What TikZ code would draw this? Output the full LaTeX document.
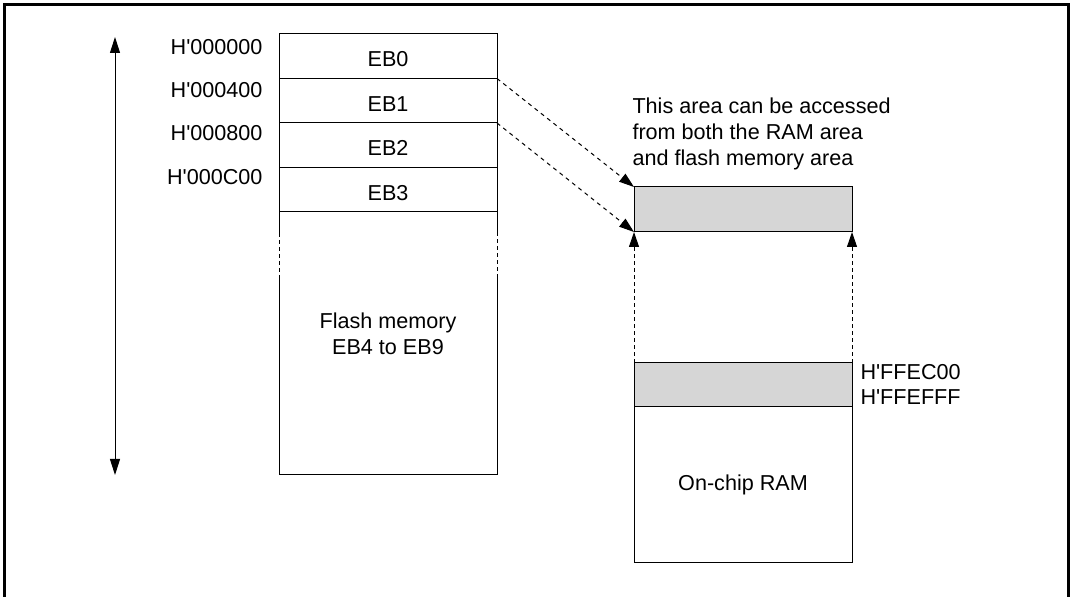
\documentclass[tikz,border=0pt]{standalone}
\usepackage{fontspec}
\setmainfont{Liberation Sans}
\usetikzlibrary{positioning,arrows.meta}

\newcommand{\haddr}[1]{H\textquotesingle#1}

\tikzset{
  block/.style={draw,minimum width=109pt,minimum height=22.25pt,inner sep=0pt,outer sep=0pt,text height=10.7pt,text depth=0pt},
  area/.style={draw,fill=black!16,minimum width=109pt,inner sep=0pt,outer sep=0pt},
  ramblock/.style={draw,minimum width=109pt,inner sep=0pt,outer sep=0pt},
  addr/.style={inner sep=0pt},
  tip/.style={-{Triangle[width=5pt,length=7.5pt]}},
  sidedash/.style={dash pattern=on 2pt off 1.5pt},
  linkdash/.style={dash pattern=on 2pt off 2pt},
}

\begin{document}
\begin{tikzpicture}[x=0.5pt,y=-0.5pt,font=\fontsize{10.8}{13.2}\selectfont,line width=0.5pt]
\useasboundingbox (0,0) rectangle (1074,597);
% frame
\draw[line width=1.5pt] (4.5,620) -- (4.5,4.5) -- (1068.5,4.5) -- (1068.5,620);

% address range
\coordinate (rtop) at (115,37);
\coordinate (rbot) at (115,475);
\draw[{Triangle[width=5pt,length=8pt]}-{Triangle[width=5pt,length=8pt]}] (rtop) -- (rbot);

% erase blocks
\node[block] (eb0) at (388,56.25) {EB0};
\node[block,below=0pt of eb0] (eb1) {EB1};
\node[block,below=0pt of eb1] (eb2) {EB2};
\node[block,below=0pt of eb2] (eb3) {EB3};

\node[addr,anchor=east] (a0) at (263,47) {\haddr{000000}};
\node[addr,anchor=east] (a1) at (263,90) {\haddr{000400}};
\node[addr,anchor=east] (a2) at (263,133) {\haddr{000800}};
\node[addr,anchor=east] (a3) at (263,177) {\haddr{000C00}};

% rest of flash memory
\draw (eb3.south west) -- ++(0,21) coordinate (fl1);
\draw[sidedash] (fl1) -- ++(0,45) coordinate (fl2);
\draw (fl2) -- ++(0,197) -- ++(218,0) -- ++(0,-197) coordinate (fr2);
\draw[sidedash] (fr2) -- ++(0,-45) coordinate (fr1);
\draw (fr1) -- (eb3.south east);
\node[align=center] (flash) at (388,333.5) {Flash memory\\EB4 to EB9};

% shared area
\node[area,minimum height=22.5pt] (shared) at (743,209.5) {};
\node[anchor=west,align=left,inner sep=0pt] (note) at (632,134)
  {This area can be accessed\\from both the RAM area\\and flash memory area};

% on-chip RAM
\node[area,minimum height=22pt] (ramhi) at (743,385) {};
\node[ramblock,below=0pt of ramhi,minimum height=77.5pt] (ram) {On-chip RAM};
\node[addr,anchor=west] (h0) at (860,372) {\haddr{FFEC00}};
\node[addr,anchor=west] (h1) at (860,397) {\haddr{FFEFFF}};

% links
\draw[linkdash,tip] (eb0.south east) -- (shared.north west);
\draw[linkdash,tip] (eb1.south east) -- (shared.south west);
\draw[sidedash,tip] (ramhi.north west) -- (shared.south west);
\draw[sidedash,tip] (ramhi.north east) -- (shared.south east);
\end{tikzpicture}
\end{document}
